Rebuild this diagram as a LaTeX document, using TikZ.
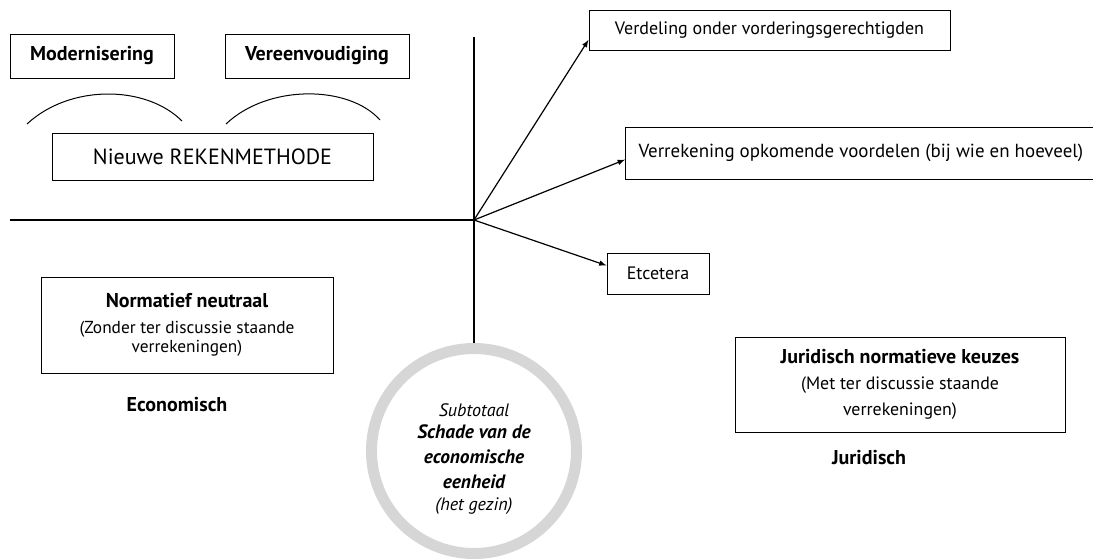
\documentclass[tikz,border=0pt]{standalone}
\usepackage{fontspec}
\setmainfont{PT Sans}
\usepackage{tikz}
\tikzstyle{vak} = [draw, line width=0.75pt, inner sep=0pt, align=center]
\tikzstyle{lijn} = [line width=0.9pt]
\tikzstyle{pijl} = [line width=0.9pt, -latex]
\tikzstyle{kop} = [font=\fontsize{15}{17}\selectfont\bfseries]

\begin{document}
\begin{tikzpicture}[x=0.75pt, y=-0.75pt, font=\fontsize{13.5}{15}\selectfont]
  \useasboundingbox (0,0) rectangle (1093,558);
  % linker kant
  \node (mod) at ( 92,56) [vak, kop, minimum width=123pt, minimum height=33pt] {Modernisering};
  \node (ver) at ( 317,56) [vak, kop, minimum width=138pt, minimum height=33pt] {Vereenvoudiging};
  \node (nieuw) at ( 212.5,156.5) [vak, minimum width=240.75pt, minimum height=35.25pt, font=\fontsize{16.5}{18}\selectfont] {Nieuwe REKENMETHODE};
  \draw [lijn, line width=0.75pt] (27,124) .. controls (70,84) and (146,85) .. (182,121);
  \draw [lijn, line width=0.75pt] (226,124) .. controls (268,84) and (349,85) .. (380,120);
  \node (neutraal) at ( 187,325) [vak, minimum width=219pt, minimum height=72pt, font=\fontsize{13}{14.5}\selectfont] {{\fontsize{15}{17}\selectfont\bfseries Normatief neutraal}\\[5pt](Zonder ter discussie staande\\verrekeningen)};
  \node (econ) at ( 177,405) [kop] {Economisch};
  % assen
  \coordinate (o) at (474,220);
  \coordinate (links) at (10,220);
  \coordinate (boven) at (474,37);
  \node (schade) at ( 474,451) [circle, draw=black!16, line width=8.25pt, minimum size=153.75pt] {};
  \node (subtot) at ( 474,459) [align=center, font=\fontsize{13.5}{18.5}\selectfont] {\itshape Subtotaal\\[-2pt]\fontsize{14.5}{18.5}\selectfont\bfseries\itshape Schade van de\\\fontsize{14.5}{18.5}\selectfont\bfseries\itshape economische\\\fontsize{14.5}{18.5}\selectfont\bfseries\itshape eenheid\\[-2pt]\itshape (het gezin)};
  \draw [lijn] (links) -- (o);
  \draw [lijn, line width=1.6pt] (boven) -- (schade.north);
  % rechter kant
  \node (verdeling) at ( 769.5,30) [vak, minimum width=270.75pt, minimum height=30pt] {Verdeling onder vorderingsgerechtigden};
  \node (verrekening) at ( 625,153) [vak, anchor=west, inner xsep=9.75pt, minimum height=39pt, text width=360pt, align=flush left, font=\fontsize{14.2}{16}\selectfont] {Verrekening opkomende voordelen (bij wie en hoeveel)};
  \node (etc) at ( 658,273.5) [vak, minimum width=76.5pt, minimum height=30.75pt] {Etcetera};
  \node (keuzes) at ( 900,384.5) [vak, minimum width=247.5pt, minimum height=71.25pt, font=\fontsize{13.4}{19.5}\selectfont] {{\fontsize{15}{17}\selectfont\bfseries Juridisch normatieve keuzes}\\(Met ter discussie staande\\verrekeningen)};
  \node (jur) at ( 869,458) [kop] {Juridisch};
  \draw [pijl] (o) to ([yshift=8pt]verdeling.south west);
  \draw [pijl] (o) to ([yshift=-5pt]verrekening.west);
  \draw [pijl] (o) to ([yshift=6pt]etc.west);
\end{tikzpicture}
\end{document}
